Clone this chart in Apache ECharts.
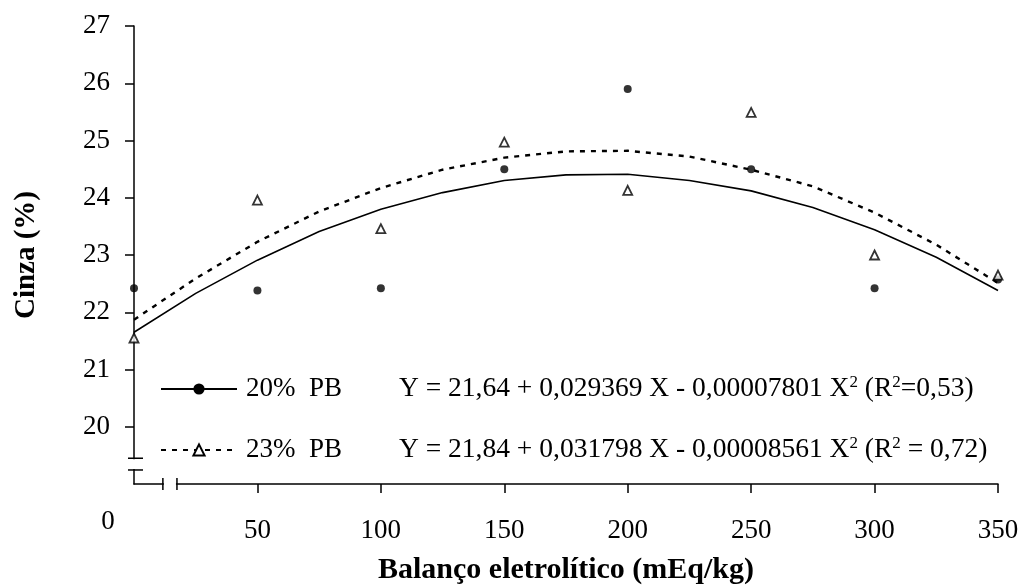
<!DOCTYPE html>
<html>
<head>
<meta charset="utf-8">
<script src="https://cdn.jsdelivr.net/npm/echarts@6.0.0/dist/echarts.min.js"></script>
<style>
  html, body { margin: 0; padding: 0; background: #fff; }
  #grafico { width: 1025px; height: 587px; }
</style>
</head>
<body>
<div id="grafico"></div>
<script>
// datos observados
const xPts = [0, 50, 100, 150, 200, 250, 300, 350];
const pb20 = [22.42, 22.38, 22.42, 24.50, 25.90, 24.50, 22.42, 22.57];
const pb23 = [21.55, 23.96, 23.46, 24.97, 24.13, 25.49, 23.00, 22.65];
// curvas ajustadas
const xFit = [0, 25, 50, 75, 100, 125, 150, 175, 200, 225, 250, 275, 300, 325, 350];
const fit20 = [21.65, 22.33, 22.91, 23.41, 23.80, 24.09, 24.30, 24.40, 24.41, 24.30, 24.12, 23.83, 23.44, 22.96, 22.38];
const fit23 = [21.87, 22.59, 23.23, 23.76, 24.17, 24.49, 24.70, 24.81, 24.82, 24.72, 24.49, 24.20, 23.74, 23.18, 22.51];
const xTicks = [50, 100, 150, 200, 250, 300, 350];
const yTicks = [20, 21, 22, 23, 24, 25, 26, 27];

const fuente = "'Liberation Serif', 'Times New Roman', serif";
const pares = (xs, ys) => xs.map((x, i) => [x, ys[i]]);

const richLeyenda = {
  n: { width: 153, fontSize: 27, lineHeight: 30, fontFamily: fuente, color: '#000', padding: [0, 0, 0, 4] },
  e: { fontSize: 27.5, lineHeight: 30, fontFamily: fuente, color: '#000' },
  s: { fontSize: 17, lineHeight: 12, verticalAlign: 'top', fontFamily: fuente, color: '#000' }
};

let myChart = echarts.init(document.getElementById('grafico'));
const option = {
  animation: false,
  grid: { left: 134, right: 27, top: 26, bottom: 103, outerBoundsMode: 'none' },
  xAxis: {
    type: 'value',
    min: 0,
    max: 350,
    interval: 50,
    name: 'Balanço eletrolítico (mEq/kg)',
    nameLocation: 'middle',
    nameGap: 71,
    nameTextStyle: { fontFamily: fuente, fontSize: 30, fontWeight: 'bold', color: '#000' },
    axisLine: { onZero: false, lineStyle: { color: '#000', width: 1.5 } },
    axisTick: { customValues: xTicks, length: 9, lineStyle: { color: '#000', width: 1.5 } },
    axisLabel: { customValues: xTicks, margin: 33, fontFamily: fuente, fontSize: 27, color: '#000' },
    splitLine: { show: false }
  },
  yAxis: {
    type: 'value',
    min: 19,
    max: 27,
    interval: 1,
    name: 'Cinza (%)',
    nameLocation: 'middle',
    nameGap: 93,
    nameTextStyle: { fontFamily: fuente, fontSize: 29, fontWeight: 'bold', color: '#000' },
    axisLine: { show: true, onZero: false, lineStyle: { color: '#000', width: 1.5 } },
    axisTick: { show: true, customValues: yTicks, length: 9, lineStyle: { color: '#000', width: 1.5 } },
    axisLabel: { customValues: yTicks, margin: 24, fontFamily: fuente, fontSize: 27, color: '#000' },
    splitLine: { show: false }
  },
  legend: {
    orient: 'vertical',
    left: 160,
    top: 374,
    padding: 0,
    itemWidth: 76,
    itemHeight: 14,
    itemGap: 32,
    data: ['20% PB', '23% PB'],
    formatter: function (name) {
      if (name === '20% PB') {
        return '{n|20%  PB}{e|Y = 21,64 + 0,029369 X - 0,00007801 X}{s|2}{e| (R}{s|2}{e|=0,53)}';
      }
      return '{n|23%  PB}{e|Y = 21,84 + 0,031798 X - 0,00008561 X}{s|2}{e| (R}{s|2}{e| = 0,72)}';
    },
    textStyle: { rich: richLeyenda }
  },
  series: [
    {
      name: '20% PB',
      type: 'line',
      data: pares(xFit, fit20),
      showSymbol: false,
      symbol: 'circle',
      symbolSize: 10,
      itemStyle: { color: '#000' },
      lineStyle: { color: '#000', width: 1.6 },
      silent: true
    },
    {
      name: '23% PB',
      type: 'line',
      data: pares(xFit, fit23),
      showSymbol: false,
      symbol: 'triangle',
      symbolSize: 9,
      itemStyle: { color: '#fff', borderColor: '#000', borderWidth: 1.8 },
      lineStyle: { color: '#000', width: 2.4, type: [5, 6] },
      silent: true
    },
    {
      name: 'obs20',
      type: 'scatter',
      data: pares(xPts, pb20),
      symbol: 'circle',
      symbolSize: 8,
      clip: false,
      itemStyle: { color: '#000' }
    },
    {
      name: 'obs23',
      type: 'scatter',
      data: pares(xPts, pb23),
      symbol: 'triangle',
      symbolSize: 9,
      clip: false,
      itemStyle: { color: '#fff', borderColor: '#000', borderWidth: 1.8 }
    }
  ]
};
myChart.setOption(option);

// corte de los ejes (estilo Excel) y etiqueta del 0
const px = (x, y) => myChart.convertToPixel({ gridIndex: 0 }, [x, y]);
const origen = px(0, 19);
const yCorte = [px(0, 19.45)[1], px(0, 19.245)[1]];
const xCorte = [px(11.7, 19)[0], px(17.4, 19)[0]];
const trazo = { stroke: '#000', lineWidth: 1.5 };
myChart.setOption({
  graphic: [
    { type: 'rect', shape: { x: origen[0] - 5, y: yCorte[0] + 1, width: 10, height: yCorte[1] - yCorte[0] - 2 }, style: { fill: '#fff' }, z: 100 },
    { type: 'line', shape: { x1: origen[0] - 6, y1: yCorte[0], x2: origen[0] + 9, y2: yCorte[0] }, style: trazo, z: 101 },
    { type: 'line', shape: { x1: origen[0] - 6, y1: yCorte[1], x2: origen[0] + 9, y2: yCorte[1] }, style: trazo, z: 101 },
    { type: 'rect', shape: { x: xCorte[0] + 1, y: origen[1] - 5, width: xCorte[1] - xCorte[0] - 2, height: 10 }, style: { fill: '#fff' }, z: 100 },
    { type: 'line', shape: { x1: xCorte[0], y1: origen[1] - 6, x2: xCorte[0], y2: origen[1] + 6 }, style: trazo, z: 101 },
    { type: 'line', shape: { x1: xCorte[1], y1: origen[1] - 6, x2: xCorte[1], y2: origen[1] + 6 }, style: trazo, z: 101 },
    { type: 'text', x: origen[0] - 26, y: origen[1] + 38, style: { text: '0', fontFamily: fuente, fontSize: 27, fill: '#000', textAlign: 'center', textVerticalAlign: 'middle' }, z: 101 }
  ]
});
</script>
</body>
</html>
